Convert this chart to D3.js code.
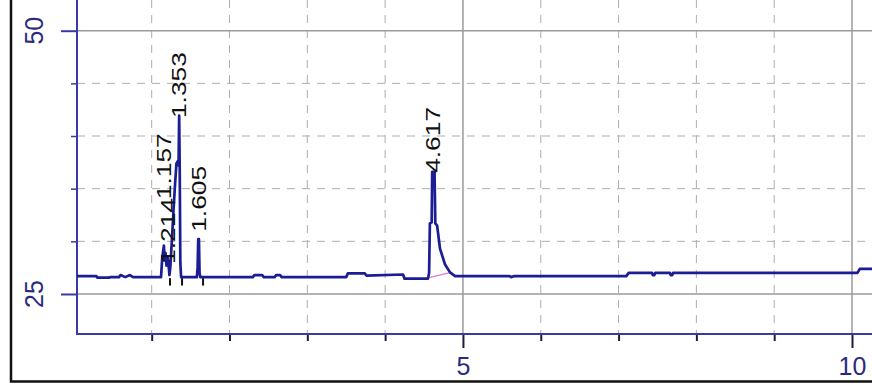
<!DOCTYPE html>
<html>
<head>
<meta charset="utf-8">
<script src="https://cdn.jsdelivr.net/npm/d3@7"></script>
<style>
  html, body { margin: 0; padding: 0; background: #fff; }
  svg { display: block; }
</style>
</head>
<body>
<div id="chart"></div>
<script>
// size of the picture
var svgWidth = 872;
var svgHeight = 385;

// plot area edges (axis lines)
var plotLeft = 77;
var plotRight = 872;
var plotTop = 0;
var plotBottom = 334;

// axis ticks
var xMajor = [5, 10];
var xMinor = [1, 2, 3, 4, 6, 7, 8, 9];
var yMajor = [25, 50];
var yMinor = [30, 35, 40, 45];

// chromatogram trace (time in min, response)
var retTime = [0.04, 0.29, 0.30, 0.45, 0.47, 0.58, 0.60, 0.66, 0.72, 0.76,
  1.12, 1.135, 1.148, 1.157, 1.166, 1.178, 1.19, 1.205, 1.214, 1.228,
  1.24, 1.26, 1.28, 1.30, 1.318, 1.335, 1.345, 1.353, 1.36, 1.368, 1.378,
  1.58, 1.59, 1.598, 1.607, 1.615, 1.625,
  2.30, 2.32, 2.42, 2.44, 2.58, 2.60, 2.65, 2.67,
  3.50, 3.52, 3.74, 3.76, 4.23, 4.25, 4.55, 4.565, 4.575, 4.598, 4.605,
  4.635, 4.645, 4.668, 4.705, 4.77, 4.834, 4.90,
  5.60, 5.62, 5.66, 7.10, 7.13, 7.43, 7.44, 7.46, 7.47, 7.66, 7.67, 7.69, 7.70,
  10.07, 10.10, 10.257];
var response = [26.7, 26.7, 26.55, 26.55, 26.6, 26.6, 26.8, 26.6, 26.8, 26.6,
  26.6, 28.4, 29.1, 29.6, 28.2, 28.9, 27.7, 28.4, 28.0, 26.8,
  27.6, 30.2, 32.9, 35.4, 37.4, 37.6, 37.2, 41.95, 37.0, 28.0, 26.6,
  26.6, 27.5, 30.2, 30.2, 27.0, 26.6,
  26.6, 26.8, 26.8, 26.6, 26.6, 26.8, 26.8, 26.6,
  26.6, 26.95, 26.95, 26.75, 26.85, 26.45, 26.45, 27.0, 31.7, 31.8, 36.6,
  36.6, 31.7, 31.5, 29.3, 27.8, 27.05, 26.7,
  26.7, 26.6, 26.7, 26.7, 27.0, 27.0, 26.8, 26.8, 27.0, 27.0, 26.8, 26.8, 27.0,
  27.0, 27.38, 27.38];

// peak annotations
var peakTimes = [1.157, 1.214, 1.353, 1.605, 4.617];
var peakNames = ["1.157", "1.214", "1.353", "1.605", "4.617"];
var labelBase = [34.0, 27.85, 41.7, 30.9, 36.5];

// integration marks below the baseline
var markTimes = [1.235, 1.39, 1.66];

// integration baseline under the last peak
var blTime = [4.56, 4.85];
var blValue = [26.55, 27.05];

// colours
var axisColor = "#3a3aa6";
var traceColor = "#1c1c94";
var gridColor = "#adadad";
var textColor = "#2b2b7c";

var svg = d3.select("#chart").append("svg")
  .attr("width", svgWidth)
  .attr("height", svgHeight);

// scales
var x = d3.scaleLinear().domain([0.04, 10.257]).range([plotLeft, plotRight]);
var y = d3.scaleLinear().domain([21.2, 52.915]).range([plotBottom, plotTop]);

// outer frame (only left and bottom are visible)
svg.append("rect")
  .attr("x", 11).attr("y", -10)
  .attr("width", 900).attr("height", 391.5)
  .attr("fill", "none")
  .attr("stroke", "#111")
  .attr("stroke-width", 2.5);

// dashed minor grid
svg.append("g").selectAll("line").data(xMinor).enter().append("line")
  .attr("x1", d => x(d)).attr("x2", d => x(d))
  .attr("y1", plotTop).attr("y2", plotBottom)
  .attr("stroke", gridColor).attr("stroke-width", 1)
  .attr("stroke-dasharray", "8,7");

svg.append("g").selectAll("line").data(yMinor).enter().append("line")
  .attr("x1", plotLeft).attr("x2", plotRight)
  .attr("y1", d => y(d)).attr("y2", d => y(d))
  .attr("stroke", gridColor).attr("stroke-width", 1)
  .attr("stroke-dasharray", "8,7");

// solid major grid
svg.append("g").selectAll("line").data(xMajor).enter().append("line")
  .attr("x1", d => x(d)).attr("x2", d => x(d))
  .attr("y1", plotTop).attr("y2", plotBottom)
  .attr("stroke", "#9a9a9a").attr("stroke-width", 1.5);

svg.append("g").selectAll("line").data(yMajor).enter().append("line")
  .attr("x1", plotLeft).attr("x2", plotRight)
  .attr("y1", d => y(d)).attr("y2", d => y(d))
  .attr("stroke", "#9a9a9a").attr("stroke-width", 1.5);

// x axis ticks
var xMajorAxis = svg.append("g")
  .attr("transform", `translate(0, ${plotBottom})`)
  .call(d3.axisBottom(x).tickValues(xMajor).tickSize(14).tickFormat(d3.format("d")));
var xMinorAxis = svg.append("g")
  .attr("transform", `translate(0, ${plotBottom})`)
  .call(d3.axisBottom(x).tickValues(xMinor).tickSize(7).tickFormat(""));

// y axis ticks
var yMajorAxis = svg.append("g")
  .attr("transform", `translate(${plotLeft}, 0)`)
  .call(d3.axisLeft(y).tickValues(yMajor).tickSize(16).tickFormat(""));
var yMinorAxis = svg.append("g")
  .attr("transform", `translate(${plotLeft}, 0)`)
  .call(d3.axisLeft(y).tickValues(yMinor).tickSize(6).tickFormat(""));

svg.selectAll(".domain").remove();
xMajorAxis.selectAll("line").attr("stroke", "#1c1c3c").attr("stroke-width", 2);
xMinorAxis.selectAll("line").attr("stroke", "#1c1c3c").attr("stroke-width", 2);
yMajorAxis.selectAll("line").attr("stroke", axisColor).attr("stroke-width", 2);
yMinorAxis.selectAll("line").attr("stroke", axisColor).attr("stroke-width", 1.5);

xMajorAxis.selectAll("text")
  .attr("y", 23)
  .attr("dy", "0.71em")
  .style("font-family", "'Liberation Sans', Arial, sans-serif")
  .style("font-size", "25px")
  .attr("fill", textColor);

// rotated y labels
svg.append("g").selectAll("text").data(yMajor).enter().append("text")
  .attr("transform", d => `translate(43, ${y(d)}) rotate(-90)`)
  .attr("text-anchor", "middle")
  .style("font-family", "'Liberation Sans', Arial, sans-serif")
  .style("font-size", "25px")
  .attr("fill", textColor)
  .text(d => d);

// axis lines
svg.append("line")
  .attr("x1", plotLeft).attr("x2", plotLeft)
  .attr("y1", plotTop).attr("y2", plotBottom + 1)
  .attr("stroke", axisColor).attr("stroke-width", 2);
svg.append("line")
  .attr("x1", plotLeft).attr("x2", plotRight)
  .attr("y1", plotBottom).attr("y2", plotBottom)
  .attr("stroke", axisColor).attr("stroke-width", 2);

// integration baseline
var blData = blTime.map((t, i) => [t, blValue[i]]);
svg.append("path")
  .datum(blData)
  .attr("d", d3.line().x(d => x(d[0])).y(d => y(d[1])))
  .attr("fill", "none")
  .attr("stroke", "#e27ad6")
  .attr("stroke-width", 1.2);

// trace
var trace = retTime.map((t, i) => [t, response[i]]);
svg.append("path")
  .datum(trace)
  .attr("d", d3.line().x(d => x(d[0])).y(d => y(d[1])))
  .attr("fill", "none")
  .attr("stroke", traceColor)
  .attr("stroke-width", 2.7)
  .attr("stroke-linejoin", "round");

// integration marks
svg.append("g").selectAll("line").data(markTimes).enter().append("line")
  .attr("x1", d => x(d)).attr("x2", d => x(d))
  .attr("y1", y(26.5)).attr("y2", y(25.8))
  .attr("stroke", "#111").attr("stroke-width", 2);

// peak labels
svg.append("g").selectAll("text").data(peakTimes).enter().append("text")
  .attr("transform", (d, i) => `translate(${x(d) + 7}, ${y(labelBase[i])}) rotate(-90)`)
  .attr("textLength", 66)
  .attr("lengthAdjust", "spacingAndGlyphs")
  .style("font-family", "'Liberation Sans', Arial, sans-serif")
  .style("font-size", "21px")
  .attr("fill", "#111")
  .text((d, i) => peakNames[i]);
</script>
</body>
</html>
